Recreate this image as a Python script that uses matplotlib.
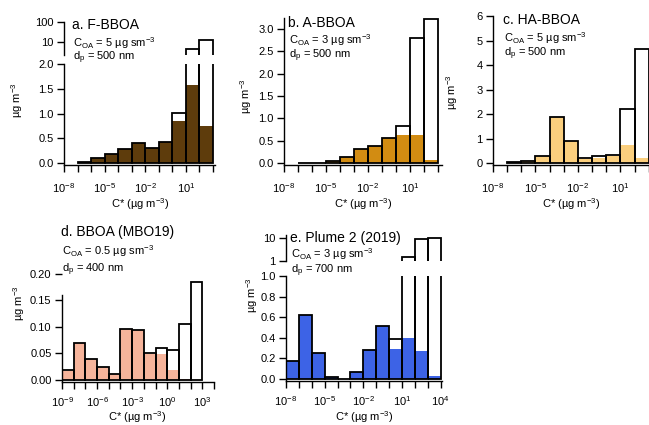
import numpy as np, matplotlib as mpl; mpl.use('Agg'); import matplotlib.pyplot as plt
from matplotlib.ticker import NullLocator, FormatStrFormatter
mpl.rcParams.update({'font.family':'Liberation Sans','mathtext.fontset':'custom','mathtext.rm':'Liberation Sans',
 'mathtext.it':'Liberation Sans:italic','mathtext.bf':'Liberation Sans:bold','font.size':8,'axes.linewidth':1.0,
 'xtick.major.size':5,'ytick.major.size':5,'xtick.major.width':1,'ytick.major.width':1,'xtick.labelsize':8,'ytick.labelsize':8,
 'xtick.major.pad':7,'ytick.major.pad':2.5,'axes.spines.top':False,'axes.spines.right':False})

# lower log10 edge of each C* bin, total (outline) and particle-phase (filled) mass, µg m-3
lo_a=[-7,-6,-5,-4,-3,-2,-1,0,1,2]
tot_a=[0.02,0.10,0.19,0.29,0.40,0.30,0.43,1.01,4.2,12.2]
part_a=[0.02,0.10,0.19,0.29,0.40,0.30,0.43,0.85,1.58,0.75]
lo_b=[-7,-6,-5,-4,-3,-2,-1,0,1,2]
tot_b=[0.01,0.01,0.035,0.13,0.32,0.37,0.57,0.84,2.81,3.23]
part_b=[0.01,0.01,0.035,0.13,0.32,0.37,0.57,0.63,0.63,0.07]
lo_c=[-7,-6,-5,-4,-3,-2,-1,0,1,2]
tot_c=[0.05,0.08,0.27,1.87,0.88,0.20,0.27,0.33,2.22,4.65]
part_c=[0.05,0.08,0.27,1.87,0.88,0.17,0.22,0.30,0.75,0.22]
lo_d=[-9,-8,-7,-6,-5,-4,-3,-2,-1,0,1,2]
tot_d=[0.019,0.069,0.040,0.025,0.011,0.097,0.094,0.050,0.060,0.057,0.105,0.185]
part_d=[0.016,0.069,0.040,0.025,0.011,0.097,0.094,0.048,0.049,0.019,0.002,0.0]
lo_e=[-8,-7,-6,-5,-4,-3,-2,-1,0,1,2,3]
tot_e=[0.17,0.62,0.25,0.02,0.003,0.065,0.28,0.51,0.39,1.47,9.0,10.7]
part_e=[0.17,0.62,0.25,0.02,0.003,0.065,0.28,0.51,0.29,0.40,0.27,0.03]
COL={'a':'#5e3c0c','b':'#d28c12','c':'#fbcf7e','d':'#f6b49b','e':'#3d63e6'}

W,H=649,425
fig=plt.figure(figsize=(W/100,H/100),dpi=100)
def rect(l,r,t,b): return [l/W,1-b/H,(r-l)/W,(b-t)/H]
def P(x,y): return x/W,1-y/H

def bars(ax,lo,tot,part,col):
    left=10.0**np.array(lo,float); wd=10.0**(np.array(lo,float)+1)-left
    ax.bar(left,part,wd,align='edge',color=col,lw=0)
    ax.bar(left,tot,wd,align='edge',fill=False,edgecolor='k',lw=1.3)

def setx(ax,x0,x1,ticks,lab,pad=7):
    ax.set_xscale('log'); ax.set_xlim(10.0**x0,10.0**x1)
    ax.set_xticks([10.0**k for k in ticks])
    ax.set_xticklabels([f'$10^{{{k}}}$' if k in lab else '' for k in ticks])
    ax.xaxis.set_minor_locator(NullLocator()); ax.tick_params(axis='x',pad=pad)

def upper(ax,x0,x1,ylo,yhi,yt):
    ax.set_xscale('log'); ax.set_xlim(10.0**x0,10.0**x1); ax.set_yscale('log'); ax.set_ylim(ylo,yhi)
    ax.spines['bottom'].set_visible(False); ax.set_xticks([]); ax.xaxis.set_minor_locator(NullLocator())
    ax.set_yticks(yt); ax.set_yticklabels([str(v) for v in yt]); ax.yaxis.set_minor_locator(NullLocator())
    ax.patch.set_alpha(0)

def notes(x,y,title,coa,dp,dy1=18,dy2=33):
    fig.text(*P(x,y),title,fontsize=10,va='center',ha='left')
    fig.text(*P(x+1,y+dy1),'C$_{\\rm OA}$ = '+coa+' µg sm$^{-3}$',fontsize=8,va='center',ha='left')
    fig.text(*P(x+1,y+dy2),'d$_{\\rm p}$ = '+dp+' nm',fontsize=8,va='center',ha='left')

dec11=list(range(-8,4)); lab3=[-8,-5,-2,1]
# a: broken axis
axa=fig.add_axes(rect(64,215,64,165)); bars(axa,lo_a,tot_a,part_a,COL['a'])
axa.set_ylim(-0.04,2.0); axa.set_yticks(np.arange(0,2.01,0.5)); axa.yaxis.set_major_formatter(FormatStrFormatter('%.1f'))
setx(axa,-8,3.15,dec11,lab3)
axa2=fig.add_axes(rect(64,215,21.7,55)); bars(axa2,lo_a,tot_a,part_a,COL['a']); upper(axa2,-8,3.15,2.16,100,[10,100])
# b
axb=fig.add_axes(rect(284,442,18,165)); bars(axb,lo_b,tot_b,part_b,COL['b'])
axb.set_ylim(-0.045,3.25); axb.set_yticks(np.arange(0,3.01,0.5)); axb.yaxis.set_major_formatter(FormatStrFormatter('%.1f'))
setx(axb,-8,3.3,dec11,lab3)
# c
axc=fig.add_axes(rect(493,649,16,165)); bars(axc,lo_c,tot_c,part_c,COL['c'])
axc.set_ylim(-0.08,6.0); axc.set_yticks(range(0,7))
setx(axc,-8,3.02,dec11,lab3)
# d
axd=fig.add_axes(rect(62,214,274,382)); bars(axd,lo_d,tot_d,part_d,COL['d'])
axd.set_ylim(-0.004,0.20); axd.set_yticks(np.arange(0,0.201,0.05)); axd.yaxis.set_major_formatter(FormatStrFormatter('%.2f'))
axd.spines['left'].set_bounds(-0.004,0.16)
setx(axd,-9,4,list(range(-9,5)),[-9,-6,-3,0,3],pad=4.5)
# e: broken axis
axe=fig.add_axes(rect(286,442,276,381)); bars(axe,lo_e,tot_e,part_e,COL['e'])
axe.set_ylim(-0.02,1.0); axe.set_yticks(np.arange(0,1.01,0.2)); axe.yaxis.set_major_formatter(FormatStrFormatter('%.1f'))
setx(axe,-8,4.1,list(range(-8,5)),[-8,-5,-2,1,4],pad=4.5)
axe2=fig.add_axes(rect(286,442,235,261)); bars(axe2,lo_e,tot_e,part_e,COL['e']); upper(axe2,-8,4.1,1,14,[1,10])

notes(72,25,'a. F-BBOA','5','500')
notes(288,23,'b. A-BBOA','3','500',17,33)
notes(503,20,'c. HA-BBOA','5','500',18,34)
notes(61,232,'d. BBOA (MBO19)','0.5','400',19,38)
notes(290,238,'e. Plume 2 (2019)','3','700',16,33)

ylab='µg m$^{-3}$'
for x,y in [(17,100),(246,96),(452,92),(19,303),(252,295)]:
    fig.text(*P(x,y),ylab,rotation=90,ha='center',va='center',fontsize=8)
xlab='C* (µg m$^{-3}$)'
for x,y in [(140,204),(363,204),(571,204),(137,417),(364,417)]:
    fig.text(*P(x,y),xlab,ha='center',va='center',fontsize=8)

fig.savefig('out.png',dpi=100)
